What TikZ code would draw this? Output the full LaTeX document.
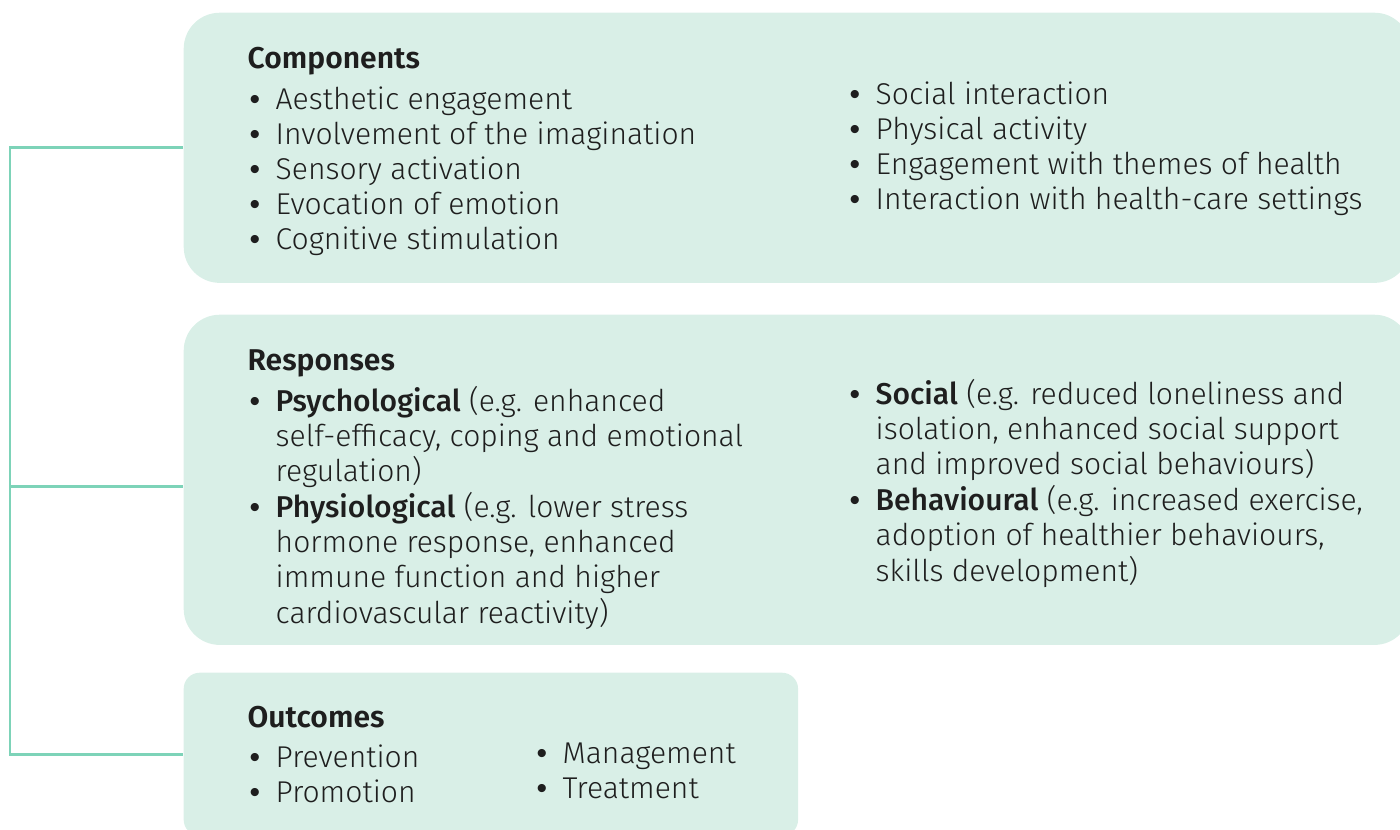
\documentclass[tikz,border=0pt]{standalone}
\usepackage{fontspec}
\setmainfont{Fira Sans}[UprightFont={* Light}, BoldFont={* Medium}]
\newfontfamily\headfont{Fira Sans}[UprightFont={* SemiBold}]
\newfontfamily\dotfont{Liberation Sans}
\usetikzlibrary{positioning}

\definecolor{boxfill}{HTML}{D9EFE7}
\definecolor{linkgreen}{HTML}{7DD3B8}
\definecolor{inkgray}{HTML}{1E1E1E}
\newcommand{\bul}{\makebox[0.26cm][l]{\dotfont\char"2022}}
\newcommand{\txtsize}{\fontsize{8.55}{9.96}\selectfont}

\begin{document}
\begin{tikzpicture}[
    x=0.01cm, y=-0.01cm,
    box/.style={fill=boxfill, inner sep=0, anchor=north west},
    link/.style={draw=linkgreen, line width=0.85pt},
    heading/.style={anchor=base west, inner sep=0, text=inkgray, font=\txtsize\headfont},
    items/.style={anchor=base west, inner sep=0, text=inkgray, font=\txtsize}
]
    \clip (0,0) rectangle (1400,829);
    % Kaesten
    \node[box, rounded corners=0.36cm, minimum width=12.26cm, minimum height=2.70cm] (comp) at (183,12) {};
    \node[box, rounded corners=0.36cm, minimum width=12.26cm, minimum height=3.30cm] (resp) at (183,314) {};
    \node[box, rounded corners=0.16cm, minimum width=6.14cm, minimum height=1.63cm] (outc) at (183,672) {};
    % Verbindungslinie
    \coordinate (spine) at (10,0);
    \coordinate (rtie) at (183,486);
    \draw[link] (comp.west) -- (comp.west -| spine) -- (outc.west -| spine) -- (outc.west);
    \draw[link] (rtie -| spine) -- (rtie);
    % Components
    \node[heading] (comphead) at (247,68) {Components};
    \node[items] (compleft) at (249,109) {\begin{tabular}[t]{@{}l@{}l@{}}
        \bul & Aesthetic engagement\\
        \bul & Involvement of the imagination\\
        \bul & Sensory activation\\
        \bul & Evocation of emotion\\
        \bul & Cognitive stimulation
    \end{tabular}};
    \node[items] (compright) at (849,104) {\begin{tabular}[t]{@{}l@{}l@{}}
        \bul & Social interaction\\
        \bul & Physical activity\\
        \bul & Engagement with themes of health\\
        \bul & Interaction with health-care settings
    \end{tabular}};
    % Responses
    \node[heading] (resphead) at (247,370) {Responses};
    \node[items] (respleft) at (249,411) {\begin{tabular}[t]{@{}l@{}l@{}}
        \bul & \textbf{Psychological} (e.g. enhanced\\
             & self-efficacy, coping and emotional\\
             & regulation)\\
        \bul & \textbf{Physiological} (e.g. lower stress\\
             & hormone response, enhanced\\
             & immune function and higher\\
             & cardiovascular reactivity)
    \end{tabular}};
    \node[items] (respright) at (849,404) {\begin{tabular}[t]{@{}l@{}l@{}}
        \bul & \textbf{Social} (e.g. reduced loneliness and\\
             & isolation, enhanced social support\\
             & and improved social behaviours)\\
        \bul & \textbf{Behavioural} (e.g. increased exercise,\\
             & adoption of healthier behaviours,\\
             & skills development)
    \end{tabular}};
    % Outcomes
    \node[heading] (outchead) at (247,727) {Outcomes};
    \node[items] (outcleft) at (249,767) {\begin{tabular}[t]{@{}l@{}l@{}}
        \bul & Prevention\\
        \bul & Promotion
    \end{tabular}};
    \node[items] (outcright) at (536,763) {\begin{tabular}[t]{@{}l@{}l@{}}
        \bul & Management\\
        \bul & Treatment
    \end{tabular}};
\end{tikzpicture}
\end{document}
